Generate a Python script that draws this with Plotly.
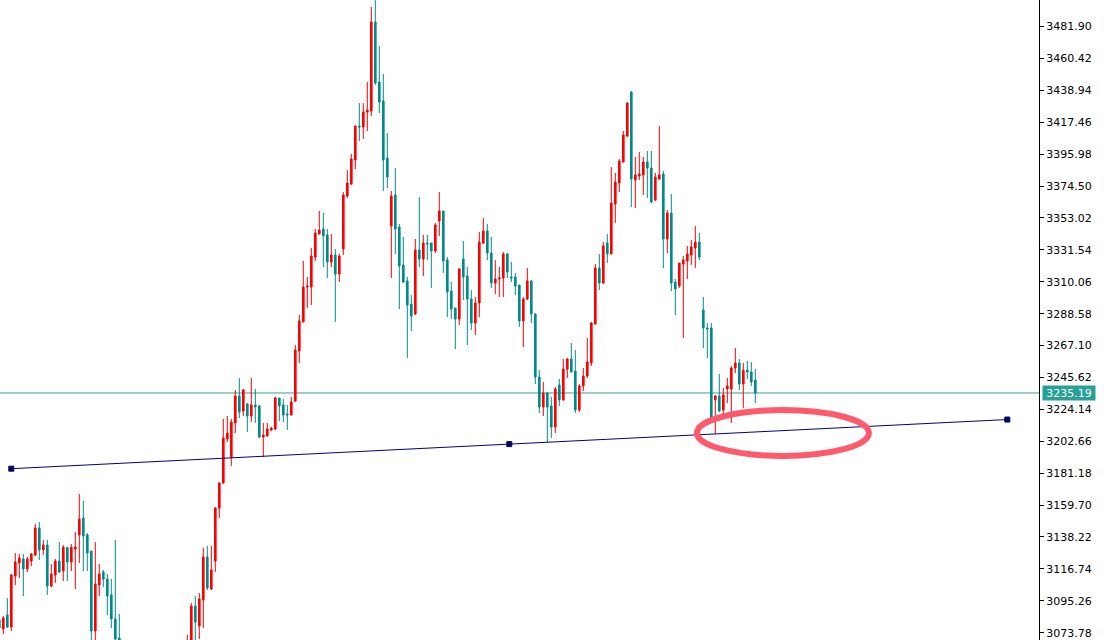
import plotly.graph_objects as go

# ---- candle data (bar index, open, high, low, close) ----
idx = list(range(0, 31)) + list(range(47, 190))

opens = [3082.3, 3076.3, 3085.7, 3077.6, 3111.9, 3120.7, 3123.4, 3116.7, 3122.0, 3126.1,
         3144.3, 3129.5, 3132.8, 3105.2, 3112.6, 3122.0, 3115.3, 3131.2, 3121.4, 3130.1,
         3139.6, 3151.0, 3139.6, 3128.8, 3074.9, 3105.9, 3114.6, 3109.9, 3099.2, 3083.0,
         3070.2,
         3055.0, 3062.0, 3091.7, 3078.3, 3095.8, 3124.7, 3103.2, 3122.0, 3157.7, 3174.6,
         3204.2, 3192.1, 3215.0, 3233.2, 3223.0, 3227.8, 3219.7, 3227.1, 3226.4, 3205.5,
         3206.2, 3210.3, 3210.9, 3231.8, 3227.1, 3221.0, 3220.4, 3229.8, 3263.5, 3283.0,
         3306.5, 3306.5, 3326.7, 3342.2, 3345.6, 3341.6, 3323.4, 3328.1, 3315.3, 3332.1,
         3367.8, 3375.9, 3392.1, 3414.9, 3414.3, 3424.4, 3425.1, 3485.0, 3444.6, 3431.8,
         3393.4, 3347.6, 3368.5, 3346.9, 3321.4, 3310.6, 3295.1, 3288.4, 3331.5, 3325.4,
         3336.2, 3336.2, 3330.8, 3351.0, 3357.7, 3324.7, 3303.8, 3292.4, 3285.0, 3325.4,
         3313.9, 3298.5, 3282.3, 3295.8, 3336.2, 3344.3, 3329.4, 3309.2, 3311.9, 3312.6,
         3328.8, 3313.3, 3313.3, 3307.9, 3283.7, 3298.5, 3310.6, 3288.4, 3245.9, 3225.7,
         3235.2, 3226.4, 3212.3, 3240.6, 3230.5, 3251.3, 3258.1, 3250.0, 3223.7, 3239.9,
         3246.6, 3255.4, 3281.6, 3319.3, 3309.2, 3336.2, 3328.8, 3362.4, 3376.6, 3390.7,
         3408.2, 3437.9, 3378.6, 3381.3, 3382.0, 3390.7, 3386.7, 3365.1, 3379.3, 3382.6,
         3338.9, 3356.4, 3309.9, 3307.2, 3322.0, 3324.1, 3328.1, 3332.8, 3336.8, 3291.1,
         3278.9, 3278.9, 3230.5, 3233.2, 3223.7, 3237.9, 3237.9, 3252.0, 3255.4, 3241.2,
         3250.6, 3249.3, 3243.9]

highs = [3084.3, 3085.0, 3097.1, 3113.3, 3127.4, 3126.8, 3126.8, 3124.7, 3127.4, 3146.9,
         3148.3, 3136.2, 3136.2, 3120.0, 3123.4, 3134.8, 3132.8, 3131.2, 3133.5, 3141.6,
         3167.2, 3162.5, 3140.9, 3128.8, 3134.8, 3120.0, 3116.0, 3113.3, 3109.9, 3136.2,
         3086.4,
         3072.2, 3093.8, 3098.5, 3100.5, 3130.8, 3132.2, 3132.2, 3158.4, 3175.3, 3217.7,
         3219.7, 3217.7, 3237.2, 3245.3, 3237.9, 3228.4, 3245.3, 3237.9, 3227.1, 3215.0,
         3215.0, 3212.3, 3232.5, 3231.8, 3231.1, 3227.1, 3232.5, 3267.5, 3287.7, 3324.1,
         3313.3, 3332.8, 3345.6, 3357.7, 3356.4, 3345.6, 3342.2, 3332.1, 3328.8, 3370.5,
         3385.3, 3396.1, 3415.6, 3430.4, 3430.4, 3444.6, 3495.1, 3502.0, 3468.8, 3450.0,
         3410.2, 3371.2, 3386.7, 3349.0, 3340.2, 3313.3, 3301.2, 3338.9, 3367.1, 3341.6,
         3341.6, 3336.2, 3349.6, 3370.5, 3357.7, 3326.7, 3309.9, 3292.4, 3319.3, 3337.5,
         3320.0, 3304.5, 3299.8, 3343.6, 3353.0, 3349.0, 3340.2, 3324.7, 3320.0, 3330.1,
         3329.4, 3323.4, 3316.0, 3307.9, 3299.8, 3319.3, 3311.3, 3289.0, 3250.6, 3242.6,
         3235.8, 3232.5, 3239.2, 3244.6, 3258.1, 3258.7, 3268.8, 3264.1, 3241.2, 3252.0,
         3272.2, 3283.0, 3322.0, 3328.8, 3336.8, 3342.2, 3387.3, 3383.3, 3392.7, 3411.6,
         3431.0, 3438.2, 3394.1, 3397.5, 3394.1, 3398.1, 3398.1, 3383.3, 3414.9, 3384.7,
         3358.4, 3369.2, 3311.9, 3322.7, 3327.4, 3334.2, 3338.2, 3347.6, 3342.9, 3299.8,
         3282.3, 3282.3, 3233.8, 3248.0, 3238.5, 3245.3, 3253.4, 3265.5, 3258.1, 3255.4,
         3256.7, 3256.0, 3251.3]

lows = [3074.2, 3072.9, 3076.9, 3074.9, 3105.9, 3110.6, 3098.5, 3114.6, 3118.7, 3125.4,
        3122.7, 3126.1, 3099.2, 3104.5, 3107.2, 3113.9, 3108.6, 3108.6, 3115.3, 3103.2,
        3120.7, 3115.3, 3115.3, 3064.8, 3064.8, 3098.5, 3104.5, 3085.7, 3076.9, 3064.8,
        3062.0,
        3052.0, 3057.0, 3068.5, 3069.5, 3076.9, 3102.5, 3102.5, 3114.6, 3151.0, 3173.9,
        3202.2, 3186.0, 3208.2, 3218.3, 3219.7, 3208.9, 3215.6, 3215.0, 3204.9, 3192.1,
        3205.9, 3209.6, 3210.3, 3216.3, 3215.6, 3210.3, 3220.0, 3229.1, 3255.4, 3282.8,
        3292.4, 3294.4, 3324.1, 3342.0, 3320.0, 3312.6, 3320.0, 3283.0, 3309.9, 3328.1,
        3366.5, 3375.2, 3386.0, 3404.9, 3406.2, 3411.6, 3421.7, 3442.6, 3423.7, 3371.2,
        3373.2, 3312.6, 3328.8, 3291.7, 3309.2, 3258.7, 3276.9, 3287.7, 3320.0, 3313.9,
        3324.7, 3305.9, 3329.4, 3340.9, 3316.0, 3286.3, 3285.0, 3264.8, 3281.0, 3297.8,
        3267.5, 3277.6, 3274.2, 3286.3, 3335.5, 3324.7, 3305.9, 3301.8, 3299.8, 3299.8,
        3312.6, 3309.9, 3301.2, 3279.6, 3266.1, 3297.8, 3282.3, 3241.2, 3221.7, 3219.7,
        3202.2, 3204.9, 3208.2, 3226.4, 3230.0, 3245.3, 3249.0, 3221.7, 3222.4, 3236.5,
        3245.3, 3253.4, 3281.4, 3304.5, 3308.6, 3322.7, 3328.5, 3349.6, 3370.5, 3390.5,
        3407.5, 3360.4, 3359.7, 3378.6, 3368.5, 3366.5, 3363.1, 3364.5, 3378.6, 3319.3,
        3329.4, 3303.8, 3287.7, 3305.9, 3272.2, 3311.9, 3321.4, 3319.3, 3324.7, 3265.5,
        3258.7, 3217.0, 3207.6, 3222.4, 3221.0, 3228.4, 3215.0, 3248.6, 3237.2, 3225.1,
        3244.6, 3239.9, 3228.4]

closes = [3076.9, 3083.7, 3077.6, 3112.6, 3121.4, 3124.1, 3116.7, 3123.4, 3126.8, 3144.3,
          3129.5, 3132.8, 3105.2, 3113.3, 3122.0, 3114.6, 3131.2, 3121.4, 3131.2, 3131.5,
          3150.3, 3138.9, 3127.4, 3074.9, 3106.6, 3113.3, 3109.9, 3098.5, 3083.0, 3069.5,
          3063.5,
          3066.0, 3091.7, 3080.9, 3096.5, 3124.7, 3103.9, 3116.0, 3157.7, 3174.6, 3204.9,
          3208.2, 3215.6, 3233.2, 3222.4, 3237.2, 3219.7, 3227.1, 3225.7, 3205.5, 3206.9,
          3210.9, 3211.6, 3231.8, 3226.4, 3220.4, 3220.4, 3229.1, 3264.1, 3283.7, 3306.5,
          3307.2, 3327.4, 3342.9, 3344.9, 3340.9, 3323.4, 3328.1, 3315.3, 3327.4, 3368.5,
          3376.6, 3392.7, 3414.9, 3414.3, 3424.4, 3425.7, 3485.0, 3443.9, 3431.1, 3392.1,
          3380.6, 3367.8, 3345.6, 3320.7, 3309.9, 3294.4, 3287.0, 3331.5, 3325.4, 3336.2,
          3335.5, 3330.8, 3348.3, 3357.7, 3324.1, 3303.2, 3291.7, 3285.0, 3318.7, 3313.3,
          3298.5, 3282.3, 3295.8, 3336.8, 3344.3, 3329.4, 3309.2, 3311.9, 3312.6, 3328.8,
          3316.6, 3312.6, 3307.2, 3283.7, 3298.5, 3310.6, 3288.4, 3245.9, 3225.7, 3235.2,
          3225.7, 3212.3, 3237.9, 3230.5, 3251.3, 3258.1, 3249.3, 3223.7, 3239.9, 3246.6,
          3256.0, 3282.3, 3319.3, 3309.2, 3334.2, 3328.8, 3363.1, 3377.2, 3391.4, 3408.9,
          3430.4, 3379.3, 3382.0, 3382.6, 3390.7, 3386.7, 3363.8, 3380.6, 3382.0, 3338.9,
          3356.4, 3309.2, 3305.2, 3322.7, 3324.7, 3328.8, 3333.5, 3336.8, 3326.7, 3278.9,
          3278.3, 3218.3, 3233.2, 3223.0, 3233.8, 3239.9, 3252.0, 3255.4, 3241.2, 3250.6,
          3249.3, 3242.6, 3235.19]

# price axis labels
tick_labels = ["3073.78", "3095.26", "3116.74", "3138.22", "3159.70", "3181.18", "3202.66",
               "3224.14", "3245.62", "3267.10", "3288.58", "3310.06", "3331.54", "3353.02",
               "3374.50", "3395.98", "3417.46", "3438.94", "3460.42", "3481.90"]
last_price = 3235.19

# trend line anchors (bar index, price)
trend_idx = [3, 127.5, 252]
trend_price = [3184.2, 3200.75, 3217.3]

# highlight ellipse (bar index range, price range)
ellipse_idx = [174.4, 217.4]
ellipse_price = [3192.8, 3223.7]

UP = "#FF0000"
DOWN = "#008B8B"

fig = go.Figure()
fig.add_trace(go.Candlestick(
    x=idx, open=opens, high=highs, low=lows, close=closes,
    increasing=dict(line=dict(color=UP, width=1), fillcolor=UP),
    decreasing=dict(line=dict(color=DOWN, width=1), fillcolor=DOWN),
    whiskerwidth=0, hoverinfo="skip", showlegend=False,
))
fig.add_trace(go.Scatter(
    x=trend_idx, y=trend_price, mode="lines+markers",
    line=dict(color="#000080", width=1),
    marker=dict(symbol="square", size=5, color="#000040", line=dict(color="#000080", width=1)),
    hoverinfo="skip", showlegend=False,
))

fig.add_shape(type="line", xref="paper", x0=0, x1=1, yref="y", y0=last_price, y1=last_price,
              line=dict(color="#3A9E96", width=1), layer="below")
fig.add_shape(type="circle", xref="x", yref="y",
              x0=ellipse_idx[0], x1=ellipse_idx[1], y0=ellipse_price[0], y1=ellipse_price[1],
              line=dict(color="#FF5A6B", width=6), layer="above")

fig.add_annotation(xref="paper", x=1, xanchor="left", xshift=3, yref="y", y=last_price,
                   text=f"{last_price:.2f}", showarrow=False, bgcolor="#27A096",
                   font=dict(family="DejaVu Sans", size=11, color="white"),
                   width=52, height=14, borderpad=0)

fig.update_layout(
    width=1110, height=640, autosize=False,
    margin=dict(l=0, r=71, t=0, b=0),
    paper_bgcolor="white", plot_bgcolor="white",
    boxgap=0.42,
    showlegend=False,
    xaxis=dict(range=[0.175, 259.925], visible=False, rangeslider=dict(visible=False),
               fixedrange=True),
    yaxis=dict(range=[3068.85, 3499.8], side="right", showgrid=False, zeroline=False,
               showline=True, linecolor="black", linewidth=1,
               ticks="outside", ticklen=4, tickcolor="black", tickwidth=1,
               tickvals=[float(t) for t in tick_labels], ticktext=tick_labels,
               tickfont=dict(family="DejaVu Sans", size=11, color="black"),
               fixedrange=True),
)

fig.write_html("out.html", config={"displayModeBar": False},
               post_script="document.body.style.margin='0';document.body.style.overflow='hidden';")
